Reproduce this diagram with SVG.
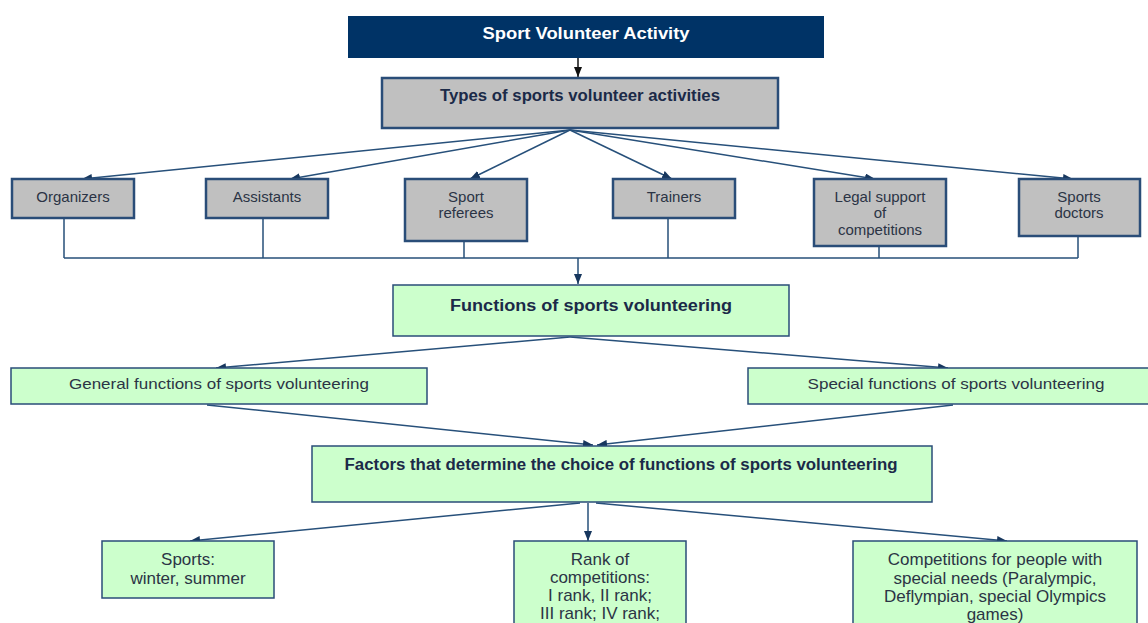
<svg xmlns="http://www.w3.org/2000/svg" width="1148" height="623" viewBox="0 0 1148 623">
  <style>
    .title { font-family: "Liberation Sans", Arial, sans-serif; font-weight: bold; font-size: 16px; fill: #1b2a48; text-anchor: middle; }
    .label { font-family: "Liberation Sans", Arial, sans-serif; font-size: 15px; fill: #2b3445; text-anchor: middle; }
    .big { font-size: 17px; }
    .gray { fill: #c0c0c0; stroke: #2a4d78; stroke-width: 2.5; }
    .green { fill: #ccffcc; stroke: #2a4d78; stroke-width: 1.5; }
    .link { fill: none; stroke: #27507a; stroke-width: 1.5; }
  </style>
  <defs>
    <marker id="arrow" viewBox="0 0 10 8" refX="10" refY="4" markerWidth="10" markerHeight="8" markerUnits="userSpaceOnUse" orient="auto">
      <path d="M0,0 L10,4 L0,8 Z" fill="#17375e"/>
    </marker>
    <marker id="arrowBlack" viewBox="0 0 10 8" refX="10" refY="4" markerWidth="10" markerHeight="8" markerUnits="userSpaceOnUse" orient="auto">
      <path d="M0,0 L10,4 L0,8 Z" fill="#111"/>
    </marker>
  </defs>

  <!-- connectors -->
  <g id="connectors">
    <line x1="578" y1="58" x2="578" y2="77" stroke="#111" stroke-width="1.5" marker-end="url(#arrowBlack)"/>
    <!-- fan from types to each activity -->
    <line class="link" x1="570" y1="130" x2="82" y2="179" marker-end="url(#arrow)"/>
    <line class="link" x1="570" y1="130" x2="290" y2="179" marker-end="url(#arrow)"/>
    <line class="link" x1="570" y1="130" x2="470" y2="179" marker-end="url(#arrow)"/>
    <line class="link" x1="570" y1="130" x2="672" y2="179" marker-end="url(#arrow)"/>
    <line class="link" x1="570" y1="130" x2="875" y2="179" marker-end="url(#arrow)"/>
    <line class="link" x1="570" y1="130" x2="1073" y2="179" marker-end="url(#arrow)"/>
    <!-- collector bus -->
    <path class="link" d="M64,218 V258 M263,218 V258 M464,241 V258 M668,218 V258 M879,246 V258 M1078,236 V258 M64,258 H1078"/>
    <line class="link" x1="578" y1="258" x2="578" y2="284" marker-end="url(#arrow)"/>
    <!-- functions split -->
    <line class="link" x1="570" y1="337" x2="216" y2="368" marker-end="url(#arrow)"/>
    <line class="link" x1="570" y1="337" x2="948" y2="368" marker-end="url(#arrow)"/>
    <!-- converge on factors -->
    <line class="link" x1="207" y1="405" x2="593" y2="445" marker-end="url(#arrow)"/>
    <line class="link" x1="953" y1="405" x2="597" y2="445" marker-end="url(#arrow)"/>
    <!-- factors to categories -->
    <line class="link" x1="580" y1="503" x2="190" y2="541" marker-end="url(#arrow)"/>
    <line class="link" x1="588" y1="503" x2="588" y2="541" marker-end="url(#arrow)"/>
    <line class="link" x1="596" y1="503" x2="1007" y2="541" marker-end="url(#arrow)"/>
  </g>

  <g id="sport-volunteer-activity">
    <rect x="348" y="16" width="476" height="42" fill="#003366"/>
    <text class="title" x="586" y="39" style="fill:#ffffff" textLength="207" lengthAdjust="spacingAndGlyphs">Sport Volunteer Activity</text>
  </g>

  <g id="types">
    <rect class="gray" x="382" y="78" width="396" height="50"/>
    <text class="title" x="580" y="101" textLength="280" lengthAdjust="spacingAndGlyphs">Types of sports volunteer activities</text>
  </g>

  <g id="organizers">
    <rect class="gray" x="12" y="179" width="122" height="39"/>
    <text class="label" x="73" y="202">Organizers</text>
  </g>
  <g id="assistants">
    <rect class="gray" x="206" y="179" width="122" height="39"/>
    <text class="label" x="267" y="202">Assistants</text>
  </g>
  <g id="referees">
    <rect class="gray" x="405" y="179" width="122" height="62"/>
    <text class="label" x="466" y="202">Sport</text>
    <text class="label" x="466" y="218">referees</text>
  </g>
  <g id="trainers">
    <rect class="gray" x="613" y="179" width="122" height="39"/>
    <text class="label" x="674" y="202">Trainers</text>
  </g>
  <g id="legal-support">
    <rect class="gray" x="814" y="179" width="132" height="67"/>
    <text class="label" x="880" y="202">Legal support</text>
    <text class="label" x="880" y="218">of</text>
    <text class="label" x="880" y="235">competitions</text>
  </g>
  <g id="sports-doctors">
    <rect class="gray" x="1019" y="179" width="121" height="57"/>
    <text class="label" x="1079" y="202">Sports</text>
    <text class="label" x="1079" y="218">doctors</text>
  </g>

  <g id="functions">
    <rect class="green" x="393" y="285" width="396" height="51"/>
    <text class="title" x="591" y="311" textLength="282" lengthAdjust="spacingAndGlyphs">Functions of sports volunteering</text>
  </g>

  <g id="general-functions">
    <rect class="green" x="11" y="368" width="416" height="36"/>
    <text class="label" x="219" y="389" textLength="300" lengthAdjust="spacingAndGlyphs">General functions of sports volunteering</text>
  </g>
  <g id="special-functions">
    <rect class="green" x="748" y="368" width="402" height="36"/>
    <text class="label" x="956" y="389" textLength="297" lengthAdjust="spacingAndGlyphs">Special functions of sports volunteering</text>
  </g>

  <g id="factors">
    <rect class="green" x="312" y="446" width="620" height="56"/>
    <text class="title" x="621" y="470" textLength="553" lengthAdjust="spacingAndGlyphs">Factors that determine the choice of functions of sports volunteering</text>
  </g>

  <g id="sports">
    <rect class="green" x="102" y="541" width="172" height="57"/>
    <text class="label big" x="188" y="565">Sports:</text>
    <text class="label big" x="188" y="584">winter, summer</text>
  </g>
  <g id="rank">
    <rect class="green" x="514" y="541" width="172" height="90"/>
    <text class="label big" x="600" y="565">Rank of</text>
    <text class="label big" x="600" y="583">competitions:</text>
    <text class="label big" x="600" y="601">I rank, II rank;</text>
    <text class="label big" x="600" y="619">III rank; IV rank;</text>
  </g>
  <g id="special-needs">
    <rect class="green" x="853" y="541" width="284" height="90"/>
    <text class="label big" x="995" y="565">Competitions for people with</text>
    <text class="label big" x="995" y="584">special needs (Paralympic,</text>
    <text class="label big" x="995" y="602">Deflympian, special Olympics</text>
    <text class="label big" x="995" y="620">games)</text>
  </g>
</svg>
